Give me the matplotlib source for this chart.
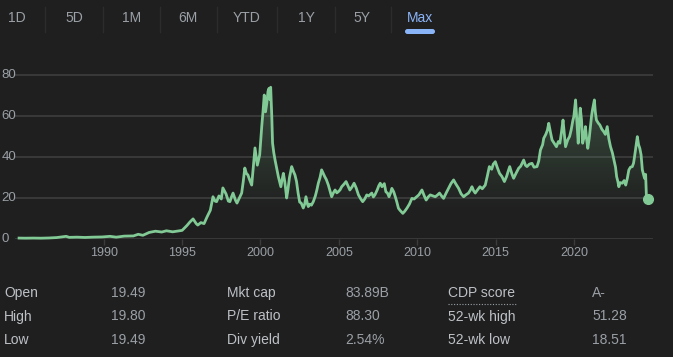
import matplotlib
matplotlib.use("Agg")
import matplotlib.pyplot as plt
import matplotlib.transforms as mtransforms
import numpy as np
from matplotlib.colors import LinearSegmentedColormap
from matplotlib.patches import Polygon, FancyBboxPatch

# price history (decimal year, price)
years = [1984.6, 1985.0, 1985.5, 1986.0, 1986.5, 1987.0, 1987.6, 1987.8, 1988.3, 1988.8,
         1989.3, 1989.9, 1990.4, 1990.8, 1991.3, 1991.9, 1992.2, 1992.5, 1992.9, 1993.3,
         1993.7, 1994.0, 1994.4, 1994.8, 1995.0, 1995.3, 1995.5, 1995.7, 1995.9, 1996.0,
         1996.2, 1996.4, 1996.6, 1996.8, 1996.97, 1997.1, 1997.2, 1997.35, 1997.5, 1997.6,
         1997.8, 1997.95, 1998.05, 1998.15, 1998.25, 1998.4, 1998.5, 1998.65, 1998.8, 1998.9,
         1999.0, 1999.1, 1999.2, 1999.3, 1999.44, 1999.55, 1999.65, 1999.8, 1999.95, 2000.08,
         2000.17, 2000.24, 2000.32, 2000.4, 2000.48, 2000.55, 2000.6, 2000.65, 2000.72, 2000.77,
         2000.85, 2000.93, 2001.05, 2001.14, 2001.22, 2001.3, 2001.38, 2001.46, 2001.55, 2001.67,
         2001.75, 2001.85, 2001.99, 2002.1, 2002.2, 2002.3, 2002.4, 2002.5, 2002.6, 2002.73,
         2002.82, 2002.9, 2003.0, 2003.05, 2003.15, 2003.25, 2003.37, 2003.5, 2003.6, 2003.69,
         2003.8, 2003.9, 2004.0, 2004.1, 2004.2, 2004.33, 2004.45, 2004.54, 2004.65, 2004.76,
         2004.87, 2004.97, 2005.08, 2005.18, 2005.3, 2005.46, 2005.58, 2005.7, 2005.85, 2005.97,
         2006.1, 2006.25, 2006.4, 2006.52, 2006.65, 2006.78, 2006.9, 2007.1, 2007.2, 2007.3,
         2007.45, 2007.55, 2007.64, 2007.75, 2007.9, 2008.0, 2008.1, 2008.2, 2008.3, 2008.38,
         2008.5, 2008.6, 2008.7, 2008.8, 2008.9, 2009.08, 2009.2, 2009.34, 2009.5, 2009.66,
         2009.8, 2009.97, 2010.1, 2010.3, 2010.45, 2010.57, 2010.7, 2010.83, 2011.0, 2011.15,
         2011.3, 2011.42, 2011.55, 2011.68, 2011.85, 2012.0, 2012.15, 2012.32, 2012.45, 2012.64,
         2012.8, 2012.96, 2013.1, 2013.27, 2013.4, 2013.49, 2013.6, 2013.7, 2013.85, 2014.0,
         2014.15, 2014.34, 2014.48, 2014.6, 2014.75, 2014.85, 2014.98, 2015.1, 2015.25, 2015.4,
         2015.56, 2015.7, 2015.8, 2015.9, 2016.05, 2016.15, 2016.3, 2016.47, 2016.6, 2016.79,
         2016.9, 2017.0, 2017.15, 2017.32, 2017.45, 2017.64, 2017.75, 2017.86, 2018.0, 2018.07,
         2018.2, 2018.3, 2018.39, 2018.5, 2018.6, 2018.75, 2018.88, 2019.0, 2019.1, 2019.2,
         2019.3, 2019.4, 2019.46, 2019.6, 2019.72, 2019.82, 2019.92, 2019.99, 2020.1, 2020.2,
         2020.27, 2020.33, 2020.4, 2020.48, 2020.55, 2020.65, 2020.73, 2020.8, 2020.88, 2020.97,
         2021.05, 2021.12, 2021.18, 2021.3, 2021.36, 2021.43, 2021.55, 2021.65, 2021.78, 2021.9,
         2022.0, 2022.12, 2022.22, 2022.33, 2022.45, 2022.55, 2022.65, 2022.72, 2022.8, 2022.86,
         2022.95, 2023.08, 2023.2, 2023.3, 2023.4, 2023.5, 2023.6, 2023.72, 2023.8, 2023.86,
         2023.95, 2024.04, 2024.12, 2024.2, 2024.28, 2024.36, 2024.45, 2024.5, 2024.57, 2024.62,
         2024.7]
prices = [0.45, 0.40, 0.45, 0.40, 0.50, 0.70, 1.30, 0.80, 0.90, 0.75,
          0.90, 1.00, 1.30, 0.90, 1.40, 1.50, 2.30, 1.80, 3.20, 3.80,
          3.40, 4.00, 3.50, 4.00, 4.20, 6.50, 8.30, 9.80, 7.50, 6.80,
          8.00, 7.50, 10.9, 14.0, 20.6, 18.5, 18.2, 21.0, 19.5, 24.9,
          22.0, 18.5, 18.2, 20.5, 22.4, 19.0, 17.5, 20.0, 22.4, 28.0,
          34.6, 32.0, 31.2, 29.0, 26.3, 36.0, 44.4, 36.0, 41.0, 54.8,
          63.0, 70.2, 62.0, 66.0, 72.0, 73.5, 68.0, 74.0, 60.0, 46.8,
          42.0, 38.5, 34.0, 30.4, 28.0, 25.5, 29.0, 32.0, 28.0, 20.0,
          24.0, 30.0, 35.3, 33.0, 31.2, 28.0, 22.4, 18.0, 17.5, 15.1,
          17.0, 20.6, 17.0, 15.8, 17.0, 16.5, 18.2, 21.0, 24.0, 27.2,
          30.0, 33.7, 32.0, 30.4, 29.0, 26.3, 23.0, 20.6, 22.5, 23.9,
          22.5, 23.1, 24.0, 25.5, 26.5, 28.0, 26.0, 23.9, 25.5, 27.2,
          25.0, 21.5, 19.5, 18.2, 19.5, 21.5, 21.0, 22.4, 20.5, 21.5,
          24.0, 26.0, 27.2, 25.5, 27.0, 23.0, 22.4, 20.6, 22.5, 24.7,
          23.0, 20.6, 18.0, 15.0, 14.0, 12.5, 13.5, 15.0, 17.0, 19.8,
          19.5, 20.6, 21.5, 23.9, 21.0, 19.0, 20.5, 21.5, 21.0, 20.6,
          21.5, 22.4, 21.0, 19.8, 22.5, 24.7, 27.0, 28.8, 27.0, 24.7,
          22.0, 20.6, 21.5, 22.4, 24.0, 25.5, 23.5, 22.4, 24.0, 25.5,
          24.5, 26.3, 31.0, 35.3, 34.0, 36.5, 37.7, 35.0, 32.0, 30.5,
          28.0, 30.5, 33.0, 35.3, 31.5, 29.6, 32.0, 34.5, 35.5, 38.5,
          36.0, 35.3, 36.5, 36.9, 35.0, 35.3, 38.0, 43.4, 46.0, 49.1,
          51.0, 53.0, 56.4, 52.0, 48.3, 46.5, 45.0, 47.5, 46.7, 52.0,
          58.0, 50.0, 45.0, 48.3, 50.0, 53.2, 57.5, 59.7, 67.8, 55.0,
          46.7, 57.0, 63.8, 58.0, 46.7, 50.0, 54.8, 49.0, 44.2, 49.0,
          54.8, 60.0, 63.0, 67.8, 62.0, 58.0, 56.5, 55.6, 53.5, 52.3,
          51.0, 54.8, 49.0, 45.0, 42.0, 38.5, 35.0, 30.4, 28.0, 25.5,
          27.5, 27.2, 28.5, 26.3, 29.5, 33.7, 35.0, 35.3, 37.0, 40.0,
          45.0, 49.9, 46.0, 44.2, 41.0, 33.7, 31.0, 29.6, 31.5, 20.6,
          19.49]

xticks = [1990, 1995, 2000, 2005, 2010, 2015, 2020]
yticks = [0, 20, 40, 60, 80]
tabs = ["1D", "5D", "1M", "6M", "YTD", "1Y", "5Y", "Max"]
stat_names = [["Open", "High", "Low"],
              ["Mkt cap", "P/E ratio", "Div yield"],
              ["CDP score", "52-wk high", "52-wk low"]]
stat_vals = [["19.49", "19.80", "19.49"],
             ["83.89B", "88.30", "2.54%"],
             ["A-", "51.28", "18.51"]]

BG = "#1f1f1f"
LINE = "#81c995"
GRID = "#3b3b3b"
TXT = "#9aa0a6"
LBL = "#bdc1c6"
BLUE = "#8ab4f8"

plt.rcParams["font.family"] = ["Liberation Sans", "DejaVu Sans"]

W, H = 673, 357
fig = plt.figure(figsize=(W / 100, H / 100), dpi=100, facecolor=BG)

# overlay in pixel coordinates for the tabs and stats table
bg = fig.add_axes([0, 0, 1, 1])
bg.set_xlim(0, W)
bg.set_ylim(H, 0)
bg.axis("off")

tab_x = [17, 74, 132, 188, 247, 306, 362, 420]
sep_x = [45, 103, 160, 217, 277, 335, 391]
for t, x in zip(tabs, tab_x):
    bg.text(x, 18, t, ha="center", va="center", fontsize=10,
            color=BLUE if t == "Max" else TXT)
for x in sep_x:
    bg.plot([x, x], [7, 32], color="#2c2c2c", lw=1)
bg.add_patch(FancyBboxPatch((405, 29), 30, 5, boxstyle="round,pad=0,rounding_size=2.5",
                            fc=BLUE, ec="none"))

col_name_x = [4, 227, 448]
col_val_x = [111, 345, 592]
row_y = [293, 316.5, 340]
for c in range(3):
    for r in range(3):
        bg.text(col_name_x[c], row_y[r], stat_names[c][r], ha="left", va="center",
                fontsize=10, color=LBL)
        bg.text(col_val_x[c], row_y[r], stat_vals[c][r], ha="left", va="center",
                fontsize=10, color=TXT)
bg.plot([448, 517], [303.5, 303.5], color=TXT, lw=0.8, ls=(0, (1, 1.5)))

# price chart
left, right, top, bottom = 15, 653, 62, 239
ax = fig.add_axes([left / W, 1 - bottom / H, (right - left) / W, (bottom - top) / H])
ax.set_facecolor("none")

x = np.array(years)
y = np.array(prices)

# gradient fill under the line
verts = np.column_stack([np.r_[x, x[::-1]], np.r_[y, np.zeros_like(y)]])
clip = Polygon(verts, closed=True, fc="none", ec="none", transform=ax.transData)
ax.add_patch(clip)
g = np.clip((np.linspace(0, 75, 200) - 12) / 63, 0, 1).reshape(-1, 1)
cmap = LinearSegmentedColormap.from_list("fade", [(0.506, 0.788, 0.584, 0.0),
                                                  (0.506, 0.788, 0.584, 0.28)])
img = ax.imshow(g, cmap=cmap, aspect="auto", origin="lower",
                extent=[x[0], x[-1], 0, 75], zorder=1, interpolation="bilinear")
img.set_clip_path(clip)

ylab_tr = mtransforms.blended_transform_factory(fig.transFigure, ax.transData)
for v in yticks:
    ax.axhline(v, color=GRID, lw=1.3, zorder=0)
    ax.text(1.5 / W, v, str(v), transform=ylab_tr, ha="left", va="center",
            fontsize=9.5, color=TXT, clip_on=False)

ax.plot(x, y, color=LINE, lw=2.0, zorder=3, solid_joinstyle="round", clip_on=False)
ax.plot(x[-1], y[-1], "o", ms=7, color=LINE, zorder=4, clip_on=False)

ax.set_xlim(1984.34, 2025.04)
ax.set_ylim(0, 86.3)
ax.set_xticks(xticks)
ax.set_xticklabels([str(t) for t in xticks])
ax.set_yticks([])
ax.tick_params(axis="x", colors=GRID, labelcolor=TXT, labelsize=9, length=4, width=1, pad=2)
for s in ax.spines.values():
    s.set_visible(False)

fig.savefig("out.png", dpi=100, facecolor=BG)
